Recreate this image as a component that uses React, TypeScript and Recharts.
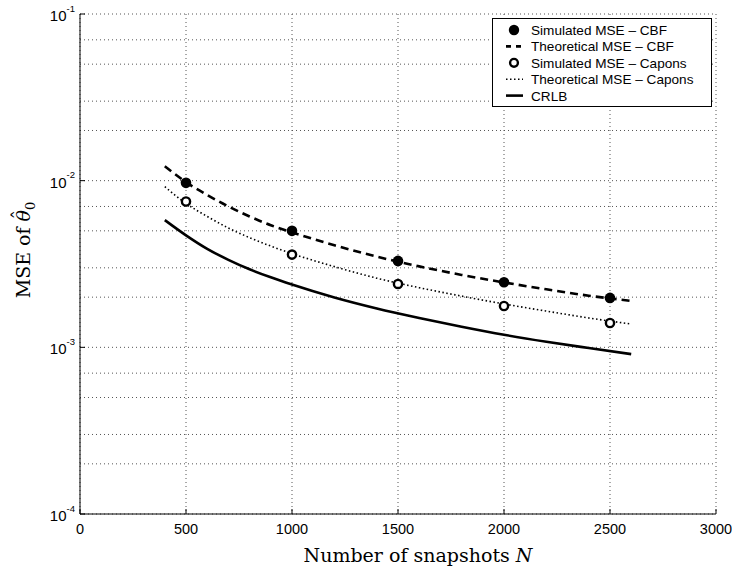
import { CartesianGrid, ComposedChart, Legend, Line, XAxis, YAxis } from "recharts";

// theoretical curves
const snapshotCounts = [400, 500, 600, 700, 800, 900, 1000, 1200, 1400, 1600, 1800, 2000, 2200, 2400, 2600];
const cbfTheoretical = [0.0122, 0.0098, 0.0082, 0.007, 0.0061, 0.0054, 0.0049, 0.0041, 0.0035, 0.00306, 0.00272, 0.00245, 0.00223, 0.00204, 0.0019];
const caponTheoretical = [0.0092, 0.0073, 0.0061, 0.0052, 0.00455, 0.00405, 0.00365, 0.00305, 0.0026, 0.00228, 0.00203, 0.00182, 0.00165, 0.0015, 0.00138];
const crlbValues = [0.0058, 0.0047, 0.0039, 0.00335, 0.00294, 0.00263, 0.00238, 0.00199, 0.00171, 0.0015, 0.00133, 0.00119, 0.00108, 0.00099, 0.00091];

// simulated points
const simulatedSnapshots = [500, 1000, 1500, 2000, 2500];
const cbfSimulated = [0.0097, 0.005, 0.0033, 0.00246, 0.00198];
const caponSimulated = [0.0075, 0.0036, 0.0024, 0.00177, 0.0014];

const xTicks = [0, 500, 1000, 1500, 2000, 2500, 3000];
const yTicks = [1e-4, 1e-3, 1e-2, 1e-1];
const gridMantissas = [1, 2, 3, 4, 5, 6, 7, 8, 9];

const legendLabels = [
  "Simulated MSE \u2013 CBF",
  "Theoretical MSE \u2013 CBF",
  "Simulated MSE \u2013 Capons",
  "Theoretical MSE \u2013 Capons",
  "CRLB",
];

const curveData = snapshotCounts.map((n, i) => ({
  n,
  cbf: cbfTheoretical[i],
  capon: caponTheoretical[i],
  crlb: crlbValues[i],
}));

const simData = simulatedSnapshots.map((n, i) => ({
  n,
  cbf: cbfSimulated[i],
  capon: caponSimulated[i],
}));

const minorGrid = yTicks.slice(0, 3).flatMap((d) => gridMantissas.map((m) => m * d)).concat([1e-1]);

const sansFont = "'Liberation Sans', Arial, sans-serif";
const serifFont = "'DejaVu Serif', serif";
const ink = "#000";
const gridColor = "#555";

// labels end just left of the axis (axis sits at x=80)
const YTick = (props: any) => {
  const { y, payload } = props;
  const exp = Math.round(Math.log10(payload.value));
  return (
    <text x={75} y={y + 7} textAnchor="end" fill={ink} fontFamily={sansFont} fontSize={15}>
      10
      <tspan fontSize={9.5} dy={-9.5}>
        {exp}
      </tspan>
    </text>
  );
};

const EmptyTick = () => <g />;

const FilledDot = (props: any) => {
  const { cx, cy, index } = props;
  if (cx == null || cy == null) return <g key={`f-${index}`} />;
  return <circle key={`f-${index}`} cx={cx} cy={cy} r={5.3} fill={ink} />;
};

const HollowDot = (props: any) => {
  const { cx, cy, index } = props;
  if (cx == null || cy == null) return <g key={`h-${index}`} />;
  return <circle key={`h-${index}`} cx={cx} cy={cy} r={4.1} fill="#fff" stroke={ink} strokeWidth={2.4} />;
};

const LegendBox = () => {
  const rowY = (i: number) => 12 + i * 16.4;
  return (
    <svg width={220} height={89} style={{ display: "block" }}>
      <rect x={0.5} y={0.5} width={219} height={88} fill="#fff" stroke={ink} strokeWidth={1} />
      <circle cx={22} cy={rowY(0)} r={5.2} fill={ink} />
      <line x1={14} x2={31} y1={rowY(1)} y2={rowY(1)} stroke={ink} strokeWidth={2.6} strokeDasharray="5 5" />
      <circle cx={22} cy={rowY(2)} r={3.9} fill="#fff" stroke={ink} strokeWidth={2.4} />
      <line x1={14} x2={31} y1={rowY(3)} y2={rowY(3)} stroke={ink} strokeWidth={1.5} strokeDasharray="1.5 2.5" />
      <line x1={14} x2={31} y1={rowY(4)} y2={rowY(4)} stroke={ink} strokeWidth={2.6} />
      {legendLabels.map((label, i) => (
        <text key={label} x={39} y={rowY(i) + 5} fontFamily={sansFont} fontSize={13.6} fill={ink}>
          {label}
        </text>
      ))}
    </svg>
  );
};

const XLabel = (props: any) => {
  const { viewBox } = props;
  const cx = viewBox.x + viewBox.width / 2 + 20;
  return (
    <text x={cx} y={viewBox.y + 48} textAnchor="middle" fontFamily={serifFont} fontSize={19} fill={ink}>
      Number of snapshots <tspan fontStyle="italic">N</tspan>
    </text>
  );
};

const YLabel = () => (
  <text
    x={0}
    y={0}
    transform="translate(30, 250) rotate(-90)"
    textAnchor="middle"
    fontFamily={serifFont}
    fontSize={19}
    fill={ink}
  >
    MSE of <tspan fontStyle="italic">{"\u03B8"}</tspan>
    <tspan dx={-9.5} dy={-4}>
      {"\u02C6"}
    </tspan>
    <tspan fontSize={13} dx={0} dy={9}>
      0
    </tspan>
  </text>
);

export default function App() {
  return (
    <div style={{ position: "fixed", left: 0, top: 0, background: "#fff" }}>
      <ComposedChart width={732} height={571} margin={{ top: 14, right: 16, bottom: 0, left: 8 }}>
        <CartesianGrid
          stroke={gridColor}
          strokeDasharray="1 3"
          horizontalValues={minorGrid}
          verticalValues={xTicks}
        />
        <XAxis
          dataKey="n"
          type="number"
          domain={[0, 3000]}
          ticks={xTicks}
          allowDataOverflow
          height={57}
          tickSize={-5}
          tickMargin={15}
          stroke={ink}
          tick={{ fill: ink, fontSize: 14.5, fontFamily: sansFont }}
          label={<XLabel />}
        />
        <XAxis
          xAxisId="top"
          orientation="top"
          dataKey="n"
          type="number"
          domain={[0, 3000]}
          ticks={xTicks}
          height={0}
          tickSize={-5}
          stroke={ink}
          tick={<EmptyTick />}
        />
        <YAxis
          type="number"
          scale="log"
          domain={[1e-4, 1e-1]}
          ticks={yTicks}
          allowDataOverflow
          width={72}
          tickSize={-5}
          tickMargin={10}
          stroke={ink}
          tick={<YTick />}
          label={<YLabel />}
        />
        <YAxis
          yAxisId="right"
          orientation="right"
          type="number"
          scale="log"
          domain={[1e-4, 1e-1]}
          ticks={yTicks}
          allowDataOverflow
          width={0}
          tickSize={-5}
          stroke={ink}
          tick={<EmptyTick />}
        />
        <Line
          data={curveData}
          dataKey="crlb"
          type="monotone"
          stroke={ink}
          strokeWidth={2.6}
          dot={false}
          isAnimationActive={false}
        />
        <Line
          data={curveData}
          dataKey="capon"
          type="monotone"
          stroke={ink}
          strokeWidth={1.6}
          strokeDasharray="1.5 2.5"
          dot={false}
          isAnimationActive={false}
        />
        <Line
          data={curveData}
          dataKey="cbf"
          type="monotone"
          stroke={ink}
          strokeWidth={2.6}
          strokeDasharray="8 5"
          dot={false}
          isAnimationActive={false}
        />
        <Line
          data={simData}
          dataKey="cbf"
          stroke="none"
          dot={<FilledDot />}
          activeDot={false}
          isAnimationActive={false}
        />
        <Line
          data={simData}
          dataKey="capon"
          stroke="none"
          dot={<HollowDot />}
          activeDot={false}
          isAnimationActive={false}
        />
        <Legend
          layout="vertical"
          align="center"
          verticalAlign="middle"
          content={<LegendBox />}
          wrapperStyle={{ position: "absolute", left: 492, top: 18, width: 220, height: 89 }}
        />
      </ComposedChart>
    </div>
  );
}
